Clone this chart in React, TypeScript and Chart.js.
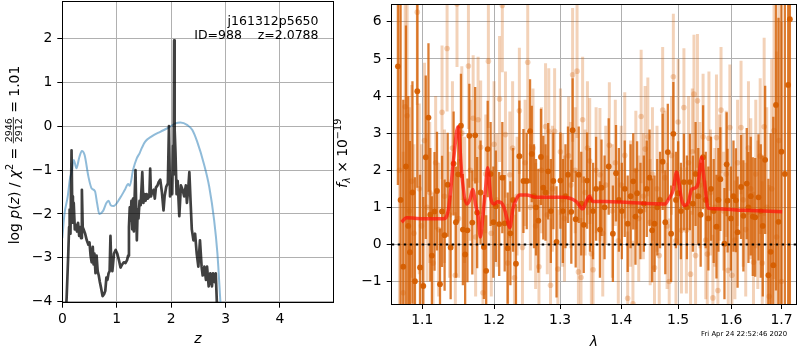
import React, { useEffect, useRef } from 'react';
import { Chart, registerables } from 'chart.js';
Chart.register(...registerables);

const FAMILY = "'DejaVu Sans', sans-serif";
Chart.defaults.font.family = FAMILY;
Chart.defaults.color = '#000';

// ---------- left panel: log p(z) and chi2 ----------
const pzZ = [0.05,0.08,0.11,0.125,0.135,0.15,0.17,0.18,0.195,0.21,
0.23,0.25,0.27,0.29,0.31,0.33,0.345,0.36,0.375,0.39,
0.42,0.45,0.48,0.50,0.52,0.54,0.56,0.575,0.59,0.61,
0.63,0.65,0.67,0.69,0.715,0.74,0.77,0.79,0.81,0.83,
0.85,0.87,0.885,0.90,0.92,0.95,0.98,1.01,1.04,1.07,
1.10,1.13,1.16,1.19,1.21,1.225,1.24,1.255,1.27,1.285,
1.30,1.315,1.33,1.345,1.36,1.37,1.385,1.40,1.42,1.44,
1.47,1.49,1.51,1.53,1.55,1.57,1.60,1.615,1.63,1.65,
1.68,1.70,1.72,1.75,1.77,1.80,1.83,1.86,1.88,1.91,
1.94,1.96,1.98,2.00,2.02,2.035,2.045,2.055,2.065,2.08,
2.10,2.12,2.15,2.18,2.21,2.24,2.27,2.29,2.31,2.335,
2.36,2.38,2.41,2.44,2.47,2.50,2.53,2.56,2.58,2.61,
2.64,2.66,2.69,2.72,2.75,2.77,2.80,2.82,2.84,2.86];
const pzLog = [-4.6,-3.9,-2.9,-2.3,-1.9,-2.45,-0.55,-1.6,-2.2,-1.75,
-2.35,-2.25,-2.4,-2.2,-2.5,-2.3,-2.55,-1.45,-2.3,-2.35,
-2.45,-2.6,-2.7,-2.65,-2.95,-3.1,-2.75,-3.15,-2.9,-3.35,
-2.95,-3.3,-3.4,-3.55,-3.7,-3.87,-3.82,-3.75,-3.45,-3.5,
-3.35,-3.3,-2.5,-3.2,-3.3,-2.9,-2.82,-2.9,-3.05,-3.22,
-3.15,-3.1,-3.12,-3.05,-2.95,-2.3,-1.85,-2.15,-1.7,-2.35,
-1.65,-2.4,-1.6,-1.0,-2.0,-2.6,-1.9,-2.1,-1.7,-1.8,
-1.05,-1.75,-1.55,-1.7,-1.55,-1.65,-1.6,-0.97,-1.6,-1.5,
-1.45,-1.65,-1.4,-1.35,-1.28,-1.22,-1.5,-1.92,-1.6,-1.38,
-1.3,0.0,-1.6,-1.3,-1.55,-0.45,-1.1,1.95,-0.1,-0.6,
-1.55,-1.25,-2.05,-1.35,-1.45,-1.6,-1.35,-1.75,-1.5,-1.05,
-1.8,-2.35,-2.6,-2.45,-2.9,-3.2,-2.6,-3.2,-3.4,-3.2,
-3.5,-3.2,-3.65,-3.35,-3.65,-3.35,-3.55,-3.35,-4.0,-4.6];

const chiZ = [0,0.04,0.10,0.14,0.17,0.21,0.26,0.31,0.36,0.41,
0.48,0.54,0.60,0.64,0.68,0.75,0.81,0.85,0.89,0.94,
1.06,1.15,1.21,1.24,1.30,1.37,1.42,1.45,1.52,1.65,
1.80,1.96,2.08,2.17,2.30,2.39,2.48,2.60,2.70,2.79,
2.85,2.91];
const chiVal = [-2.55,-2.0,-1.6,-1.2,-1.05,-0.77,-0.96,-0.72,-0.57,-0.66,
-1.15,-1.42,-1.48,-1.76,-2.0,-1.93,-1.75,-1.70,-1.80,-1.82,
-1.64,-1.45,-1.32,-1.36,-1.0,-0.73,-0.62,-0.53,-0.36,-0.23,
-0.13,-0.03,0.06,0.08,0.02,-0.09,-0.36,-0.85,-1.38,-2.14,
-2.89,-4.1];

const leftXTicks = [0, 1, 2, 3, 4];
const leftYTicks = [-4, -3, -2, -1, 0, 1, 2];

// ---------- right panel: spectrum ----------
const darkWave = [1.068,1.0715,1.075,1.0785,1.0815,1.0837,1.087,1.0903,1.0934,1.097,
1.1014,1.1047,1.1083,1.1108,1.1129,1.1165,1.1198,1.1239,1.1267,1.1302,
1.1344,1.1385,1.1426,1.1458,1.149,1.1528,1.1555,1.1587,1.1619,1.1646,
1.1688,1.1729,1.1757,1.1805,1.1853,1.1886,1.1908,1.195,1.199,1.2026,
1.2075,1.2121,1.2156,1.22,1.224,1.228,1.2323,1.2374,1.2435,1.2485,
1.2535,1.2561,1.2595,1.2626,1.2662,1.2702,1.2738,1.2773,1.2814,1.2855,
1.2894,1.2944,1.3005,1.3044,1.3085,1.3125,1.3178,1.3199,1.3248,1.3297,
1.3338,1.3378,1.3433,1.348,1.353,1.358,1.3643,1.3669,1.372,1.3789,
1.3859,1.3912,1.396,1.401,1.406,1.411,1.416,1.4205,1.4244,1.4272,
1.433,1.4389,1.444,1.4489,1.4534,1.4576,1.4625,1.4674,1.4721,1.4768,
1.4813,1.4873,1.4913,1.496,1.5,1.505,1.5105,1.516,1.5215,1.527,
1.532,1.537,1.5415,1.546,1.551,1.556,1.561,1.566,1.5713,1.575,
1.5787,1.5866,1.5908,1.5926,1.599,1.604,1.6088,1.612,1.6188,1.6234,
1.63,1.6334,1.638,1.642,1.6468,1.6534,1.658,1.662,1.6668,1.6734,
1.678,1.6834,1.6888,1.694,1.7,1.7071,1.714,1.7175];
const darkFlux = [4.8,1.2,-0.6,2.1,0.5,-0.21,1.4,-0.99,4.13,-0.62,
-1.12,2.35,3.42,0.8,-0.3,0.89,1.44,-1.07,0.89,0.25,
1.61,-0.08,2.18,0.6,1.89,3.2,0.4,-0.27,0.38,2.93,
0.59,2.94,0.86,1.4,-0.07,-0.71,2.57,1.9,0.6,1.03,
0.55,1.8,0.57,-0.1,0.3,1.2,-0.52,2.38,1.71,1.71,
3.05,2.44,1.3,1.0,0.64,2.36,1.53,1.4,1.97,0.9,
1.71,0.07,1.72,0.9,1.3,1.88,0.88,3.08,0.68,1.88,
1.1,0.53,1.72,1.2,0.9,1.5,0.4,1.53,1.0,2.1,
0.29,1.92,1.2,0.9,1.5,0.56,1.3,1.7,0.75,1.38,
0.9,1.1,1.5,1.8,0.38,0.56,1.0,1.2,2.23,0.6,
2.49,0.29,2.98,1.2,1.38,0.9,1.68,1.0,1.68,1.1,
1.9,1.3,0.8,2.35,1.2,0.7,1.5,0.9,0.48,1.2,
1.76,0.02,2.16,1.18,0.7,1.3,1.19,0.33,1.55,0.77,
1.64,1.0,1.3,0.75,0.73,1.27,0.9,0.5,2.28,-0.83,
-0.2,-0.56,3.76,0.61,2.5,1.9,4.3,6.07];
const darkErr = [3.2,5.5,4.5,3.8,3.5,3.0,3.0,2.8,2.6,2.5,
2.4,2.2,2.0,1.8,1.6,1.6,1.6,1.5,1.5,1.5,
1.4,1.4,1.4,1.5,1.3,1.4,1.5,1.5,1.4,1.4,
1.4,1.3,1.5,1.4,1.4,1.5,1.3,1.4,1.5,1.5,
1.4,1.5,1.3,1.5,1.4,1.4,1.6,1.5,1.4,1.3,
1.4,1.3,1.4,1.3,1.4,1.3,1.4,1.3,1.3,1.4,
1.3,1.5,1.3,1.4,1.4,1.3,1.4,1.4,1.3,1.3,
1.4,1.3,1.3,1.4,1.3,1.4,1.3,1.3,1.4,1.3,
1.3,1.3,1.4,1.3,1.3,1.3,1.4,1.3,1.3,1.4,
1.3,1.3,1.3,1.3,1.4,1.3,1.3,1.3,1.3,1.4,
1.3,1.3,1.4,1.3,1.4,1.3,1.3,1.4,1.3,1.3,
1.4,1.3,1.4,1.4,1.3,1.4,1.4,1.4,1.4,1.4,
1.4,1.5,1.4,1.4,1.4,1.5,1.4,1.5,1.4,1.5,
1.5,1.5,1.6,1.6,1.6,1.7,1.8,1.9,2.0,2.6,
3.2,4.0,5.0,5.5,6.0,6.5,7.0,8.0];

const lightWave = [1.07,1.0749,1.0775,1.08,1.083,1.086,1.089,1.0934,1.096,1.099,
1.103,1.1065,1.11,1.1145,1.118,1.122,1.1267,1.13,1.1336,1.137,
1.141,1.145,1.1473,1.1495,1.154,1.158,1.1633,1.166,1.17,1.1735,
1.177,1.1807,1.184,1.188,1.1918,1.196,1.2,1.204,1.208,1.2121,
1.2167,1.22,1.2232,1.2273,1.23,1.234,1.2374,1.242,1.246,1.25,
1.254,1.258,1.262,1.2671,1.271,1.2773,1.28,1.2823,1.285,1.288,
1.2914,1.2965,1.3005,1.304,1.307,1.3135,1.317,1.3199,1.324,1.327,
1.3292,1.3334,1.336,1.34,1.3438,1.3475,1.3502,1.353,1.358,1.3643,
1.369,1.374,1.38,1.385,1.39,1.395,1.4,1.406,1.411,1.416,
1.42,1.425,1.43,1.4342,1.438,1.4412,1.4459,1.45,1.454,1.4576,
1.462,1.466,1.4721,1.476,1.48,1.4838,1.488,1.4913,1.496,1.5,
1.506,1.5105,1.515,1.519,1.5227,1.526,1.529,1.532,1.5355,1.54,
1.546,1.551,1.5539,1.557,1.56,1.5645,1.568,1.5713,1.574,1.577,
1.58,1.585,1.59,1.5939,1.597,1.601,1.6068,1.612,1.6188,1.623,
1.628,1.6334,1.638,1.6434,1.648,1.652,1.6568,1.661,1.6648,1.67,
1.675,1.68,1.6848,1.69,1.695,1.7];
const lightFlux = [2.0,-1.3,3.71,3.47,0.9,1.7,0.3,6.26,1.5,0.5,
2.8,1.0,1.4,-0.5,2.2,0.4,3.56,1.3,5.28,0.8,
2.6,-0.83,6.48,0.7,3.0,1.2,4.81,2.0,3.4,0.2,
3.36,2.62,-1.3,1.9,4.94,0.3,2.7,1.2,3.92,6.44,
2.96,-0.5,1.88,2.6,-0.9,1.3,3.6,-0.08,2.2,4.91,
1.0,2.6,0.5,-0.6,2.0,3.18,0.8,3.05,-1.1,1.5,
3.05,-0.66,2.5,1.2,0.7,2.39,1.6,4.57,2.0,4.67,
-0.74,-0.89,3.36,1.4,2.6,2.25,-0.25,-0.68,2.0,1.88,
0.3,1.6,2.67,0.9,2.2,0.1,1.6,2.4,-1.45,1.1,
-1.6,2.0,0.7,3.45,1.3,2.57,2.9,0.6,1.9,-0.63,
1.5,-0.3,3.62,1.8,0.5,-1.0,2.4,4.52,0.1,3.3,
0.38,3.69,0.38,2.2,-0.8,2.5,4.05,-0.3,3.87,1.6,
2.9,0.12,-0.26,2.86,1.4,-1.44,1.0,2.88,-1.24,1.8,
3.62,0.9,1.9,-0.7,3.15,-0.83,0.12,2.2,3.15,1.2,
0.4,2.6,1.5,-0.48,1.9,0.8,2.38,-0.5,3.17,1.0,
-1.4,1.5,3.07,0.2,2.8,-1.0];
const lightErr = [4.5,3.8,3.0,3.0,2.8,2.6,2.4,2.5,2.3,2.2,
2.1,2.0,1.9,1.9,1.8,1.8,1.8,1.8,1.7,1.7,
1.8,1.7,1.7,1.6,1.8,1.7,1.7,1.9,1.7,1.6,
1.7,1.8,1.7,1.6,1.8,1.7,1.7,1.8,1.7,1.8,
1.7,1.6,1.7,1.8,1.7,1.6,1.7,1.8,1.7,1.8,
1.7,1.6,1.7,1.8,1.7,1.7,1.6,1.7,1.8,1.7,
1.7,1.6,1.7,1.8,1.7,1.6,1.7,1.8,1.7,1.8,
1.7,1.6,1.7,1.7,1.8,1.7,1.6,1.7,1.7,1.8,
1.7,1.6,1.7,1.8,1.7,1.7,1.6,1.7,1.8,1.7,
1.7,1.6,1.7,1.8,1.7,1.7,1.6,1.7,1.8,1.7,
1.7,1.6,1.7,1.8,1.7,1.7,1.6,1.7,1.8,1.7,
1.7,1.6,1.7,1.8,1.7,1.7,1.6,1.7,1.8,1.7,
1.7,1.6,1.7,1.8,1.7,1.7,1.6,1.7,1.8,1.7,
1.7,1.6,1.7,1.8,1.7,1.7,1.6,1.7,1.8,1.8,
1.8,1.8,1.9,1.9,2.0,2.0,2.1,2.2,2.4,2.7,
3.0,3.5,4.0,5.0,6.0,7.0];

const modelWave = [1.0727,1.0793,1.0926,1.1289,1.1358,1.1426,1.1487,1.1542,1.1611,1.1656,
1.1693,1.1739,1.1770,1.1803,1.1839,1.1876,1.1908,1.1955,1.2000,1.2050,
1.2101,1.2152,1.2202,1.2232,1.2277,1.2329,1.2379,1.2480,1.2632,1.2833,
1.3037,1.3254,1.3361,1.3417,1.3470,1.3524,1.3741,1.4127,1.4768,1.4826,
1.4913,1.4970,1.5013,1.5061,1.5110,1.5184,1.5245,1.5308,1.5368,1.5418,
1.5438,1.5460,1.5503,1.5552,1.5676,1.6248,1.7015];
const modelFlux = [0.60,0.72,0.70,0.69,0.98,2.3,3.17,1.84,1.09,1.22,
1.48,1.03,0.77,0.2,0.77,1.48,2.07,1.22,1.09,1.15,
1.13,0.96,0.6,0.45,0.96,1.22,1.33,1.33,1.27,1.27,
1.27,1.16,0.96,1.15,1.3,1.16,1.16,1.13,1.09,1.22,
1.48,1.95,1.66,1.22,1.05,1.13,1.48,1.52,1.66,2.27,
2.35,2.0,1.48,0.98,0.96,0.92,0.88];

const rightXTicks = [1.1, 1.2, 1.3, 1.4, 1.5, 1.6, 1.7];
const rightYTicks = [-1, 0, 1, 2, 3, 4, 5, 6];

const DARK_BAR = 'rgba(213,94,0,0.8)';
const DARK_PT = 'rgba(213,94,0,0.95)';
const LIGHT = 'rgba(213,94,0,0.28)';

// ---------- helpers ----------
const minus = (v: number) => (v < 0 ? '\u2212' + String(Math.abs(v)) : String(v));

type Seg = { t: string; s: number; it?: boolean; dy?: number; frac?: [string, string] };
const fontOf = (s: number, it?: boolean) => `${it ? 'italic ' : ''}${s}px ${FAMILY}`;

function drawRich(ctx: CanvasRenderingContext2D, segs: Seg[], ox: number, oy: number, rotated: boolean) {
  ctx.save();
  ctx.translate(ox, oy);
  if (rotated) ctx.rotate(-Math.PI / 2);
  ctx.fillStyle = '#000';
  ctx.textBaseline = 'alphabetic';
  ctx.textAlign = 'left';
  const ws = segs.map((g) => {
    ctx.font = fontOf(g.s, g.it);
    if (g.frac) return Math.max(ctx.measureText(g.frac[0]).width, ctx.measureText(g.frac[1]).width) + 2;
    return ctx.measureText(g.t).width;
  });
  const total = ws.reduce((a, b) => a + b, 0);
  let x = -total / 2;
  segs.forEach((g, i) => {
    ctx.font = fontOf(g.s, g.it);
    if (g.frac) {
      const w = ws[i];
      const bar = -5.2;
      const wn = ctx.measureText(g.frac[0]).width;
      const wd = ctx.measureText(g.frac[1]).width;
      ctx.fillText(g.frac[0], x + (w - wn) / 2, bar - 1.8);
      ctx.fillText(g.frac[1], x + (w - wd) / 2, bar + 1.8 + g.s * 0.73);
      ctx.fillRect(x, bar - 0.4, w, 0.8);
    } else {
      ctx.fillText(g.t, x, -(g.dy || 0));
    }
    x += ws[i];
  });
  ctx.restore();
}

const framePlugin = {
  id: 'frame',
  afterDraw(chart: any) {
    const { ctx, chartArea: a } = chart;
    ctx.save();
    ctx.strokeStyle = '#000';
    ctx.lineWidth = 1;
    const l = Math.floor(a.left) + 0.5, r = Math.floor(a.right) + 0.5;
    const t = Math.floor(a.top) + 0.5, b = Math.floor(a.bottom) + 0.5;
    ctx.strokeRect(l, t, r - l, b - t);
    ctx.restore();
  },
};

const errorBarPlugin = {
  id: 'errorBars',
  beforeDatasetDraw(chart: any, args: any) {
    const ds = chart.data.datasets[args.index];
    let wave: number[], flux: number[], err: number[], color: string, width: number;
    if (ds.label === 'dark') { wave = darkWave; flux = darkFlux; err = darkErr; color = DARK_BAR; width = 2.3; }
    else if (ds.label === 'light') { wave = lightWave; flux = lightFlux; err = lightErr; color = LIGHT; width = 3; }
    else return;
    const { ctx, chartArea: a, scales } = chart;
    ctx.save();
    ctx.beginPath();
    ctx.rect(a.left, a.top, a.right - a.left, a.bottom - a.top);
    ctx.clip();
    ctx.strokeStyle = color;
    ctx.lineWidth = width;
    ctx.lineCap = 'butt';
    for (let i = 0; i < wave.length; i++) {
      const x = scales.x.getPixelForValue(wave[i]);
      const y1 = scales.y.getPixelForValue(flux[i] - err[i]);
      const y2 = scales.y.getPixelForValue(flux[i] + err[i]);
      ctx.beginPath();
      ctx.moveTo(x, y1);
      ctx.lineTo(x, y2);
      ctx.stroke();
    }
    ctx.restore();
  },
};

const leftDecor = {
  id: 'leftDecor',
  afterDraw(chart: any) {
    const { ctx, chartArea: a } = chart;
    drawRich(ctx, [
      { t: 'log ', s: 13.9 }, { t: 'p', s: 13.9, it: true }, { t: '(', s: 13.9 }, { t: 'z', s: 13.9, it: true },
      { t: ') / ', s: 13.9 }, { t: '\u03c7', s: 13.9, it: true }, { t: '2', s: 9.7, dy: 5.8 }, { t: ' = ', s: 13.9 },
      { t: '', s: 9.5, frac: ['2946', '2912'] }, { t: ' = 1.01', s: 13.9 },
    ], 18.5, 155, true);
    drawRich(ctx, [{ t: 'z', s: 13.9, it: true }], (a.left + a.right) / 2, a.bottom + 40.6, false);
    ctx.save();
    ctx.fillStyle = '#000';
    ctx.font = `12.5px ${FAMILY}`;
    ctx.textAlign = 'right';
    ctx.textBaseline = 'alphabetic';
    ctx.fillText('j161312p5650', 318.5, 25);
    ctx.fillText('ID=988    z=2.0788', 318.5, 39);
    ctx.restore();
  },
};

const RIGHT_LEFT = 328;
const rightDecor = {
  id: 'rightDecor',
  afterDraw(chart: any) {
    const { ctx, chartArea: a } = chart;
    drawRich(ctx, [
      { t: 'f', s: 13.9, it: true }, { t: '\u03bb', s: 9.7, it: true, dy: -3 },
      { t: ' \u00d7 10', s: 13.9 }, { t: '\u221219', s: 9.7, dy: 5.8 },
    ], 347.3 - RIGHT_LEFT, 153.3, true);
    drawRich(ctx, [{ t: '\u03bb', s: 13.9, it: true }], (a.left + a.right) / 2, a.bottom + 41.5, false);
    ctx.save();
    ctx.fillStyle = '#000';
    ctx.font = `6.9px ${FAMILY}`;
    ctx.textAlign = 'left';
    ctx.textBaseline = 'alphabetic';
    ctx.fillText('Fri Apr 24 22:52:46 2020', 701 - RIGHT_LEFT, 336);
    ctx.restore();
  },
};

const gridOpts = { color: '#b0b0b0', lineWidth: 1, tickColor: '#000', tickLength: 5, tickWidth: 1 };
const tickFont = { size: 13.9, family: FAMILY };

const fixX = (h: number) => (s: any) => { s.height = h; s.paddingLeft = 0; s.paddingRight = 0; };
const fixY = (w: number) => (s: any) => { s.width = w; s.paddingTop = 0; s.paddingBottom = 0; };

export default function App() {
  const leftRef = useRef<HTMLCanvasElement>(null);
  const rightRef = useRef<HTMLCanvasElement>(null);

  useEffect(() => {
    const left = new Chart(leftRef.current as HTMLCanvasElement, {
      type: 'line',
      data: {
        datasets: [
          {
            label: 'pz',
            data: pzZ.map((z, i) => ({ x: z, y: pzLog[i] })),
            borderColor: 'rgba(0,0,0,0.75)',
            borderWidth: 2.7,
            pointRadius: 0,
            tension: 0,
            borderJoinStyle: 'round',
            clip: 0,
          },
          {
            label: 'chi2',
            data: chiZ.map((z, i) => ({ x: z, y: chiVal[i] })),
            borderColor: 'rgba(31,119,180,0.5)',
            borderWidth: 2,
            pointRadius: 0,
            cubicInterpolationMode: 'monotone',
            clip: 0,
          },
        ],
      } as any,
      options: {
        animation: false,
        responsive: false,
        devicePixelRatio: 1,
        events: [],
        layout: { padding: { left: 0, top: 1.3, right: 1.7, bottom: 0 } },
        plugins: { legend: { display: false }, tooltip: { enabled: false } },
        scales: {
          x: {
            type: 'linear', min: 0, max: 4.98,
            afterBuildTicks: (s: any) => { s.ticks = leftXTicks.map((v) => ({ value: v })); },
            afterFit: fixX(47.3),
            grid: gridOpts, border: { display: false },
            ticks: { padding: 3, font: tickFont, color: '#000', maxRotation: 0, autoSkip: false, callback: (v: any) => minus(Number(v)) },
          },
          y: {
            type: 'linear', min: -4.02, max: 2.84,
            afterBuildTicks: (s: any) => { s.ticks = leftYTicks.map((v) => ({ value: v })); },
            afterFit: fixY(62.3),
            grid: gridOpts, border: { display: false },
            ticks: { padding: 5, font: tickFont, color: '#000', autoSkip: false, callback: (v: any) => minus(Number(v)) },
          },
        },
      } as any,
      plugins: [framePlugin, leftDecor],
    });

    const right = new Chart(rightRef.current as HTMLCanvasElement, {
      type: 'line',
      data: {
        datasets: [
          {
            label: 'zero',
            data: [{ x: 1.06, y: 0 }, { x: 1.7303, y: 0 }],
            borderColor: '#000',
            borderWidth: 2,
            borderDash: [2.5, 3.5],
            pointRadius: 0,
            clip: 0,
          },
          {
            label: 'model',
            data: modelWave.map((w, i) => ({ x: w, y: modelFlux[i] })),
            borderColor: 'rgba(255,20,10,0.72)',
            borderWidth: 3.5,
            pointRadius: 0,
            cubicInterpolationMode: 'monotone',
            clip: 0,
          },
          {
            label: 'dark',
            data: darkWave.map((w, i) => ({ x: w, y: darkFlux[i] })),
            showLine: false,
            pointRadius: 2.9,
            pointBorderWidth: 0,
            pointBackgroundColor: DARK_PT,
            clip: 0,
          },
          {
            label: 'light',
            data: lightWave.map((w, i) => ({ x: w, y: lightFlux[i] })),
            showLine: false,
            pointRadius: 2.8,
            pointBorderWidth: 0,
            pointBackgroundColor: LIGHT,
            clip: 0,
          },
        ],
      } as any,
      options: {
        animation: false,
        responsive: false,
        devicePixelRatio: 1,
        events: [],
        layout: { padding: { left: 0, top: 1.7, right: 1, bottom: 0 } },
        plugins: { legend: { display: false }, tooltip: { enabled: false } },
        scales: {
          x: {
            type: 'logarithmic', min: 1.06, max: 1.7303,
            afterBuildTicks: (s: any) => { s.ticks = rightXTicks.map((v) => ({ value: v })); },
            afterFit: fixX(46),
            grid: gridOpts, border: { display: false },
            ticks: { padding: 3, font: tickFont, color: '#000', maxRotation: 0, autoSkip: false, callback: (v: any) => Number(v).toFixed(1) },
          },
          y: {
            type: 'linear', min: -1.605, max: 6.48,
            afterBuildTicks: (s: any) => { s.ticks = rightYTicks.map((v) => ({ value: v })); },
            afterFit: fixY(391.7 - RIGHT_LEFT),
            grid: gridOpts, border: { display: false },
            ticks: { padding: 5, font: tickFont, color: '#000', autoSkip: false, callback: (v: any) => minus(Number(v)) },
          },
        },
      } as any,
      plugins: [errorBarPlugin, framePlugin, rightDecor],
    });

    return () => {
      left.destroy();
      right.destroy();
    };
  }, []);

  return (
    <div style={{ position: 'fixed', left: 0, top: 0, width: 800, height: 350, background: '#fff' }}>
      <canvas ref={leftRef} width={335} height={350} style={{ position: 'absolute', left: 0, top: 0, width: 335, height: 350 }} />
      <canvas ref={rightRef} width={800 - RIGHT_LEFT} height={350} style={{ position: 'absolute', left: RIGHT_LEFT, top: 0, width: 800 - RIGHT_LEFT, height: 350 }} />
    </div>
  );
}
